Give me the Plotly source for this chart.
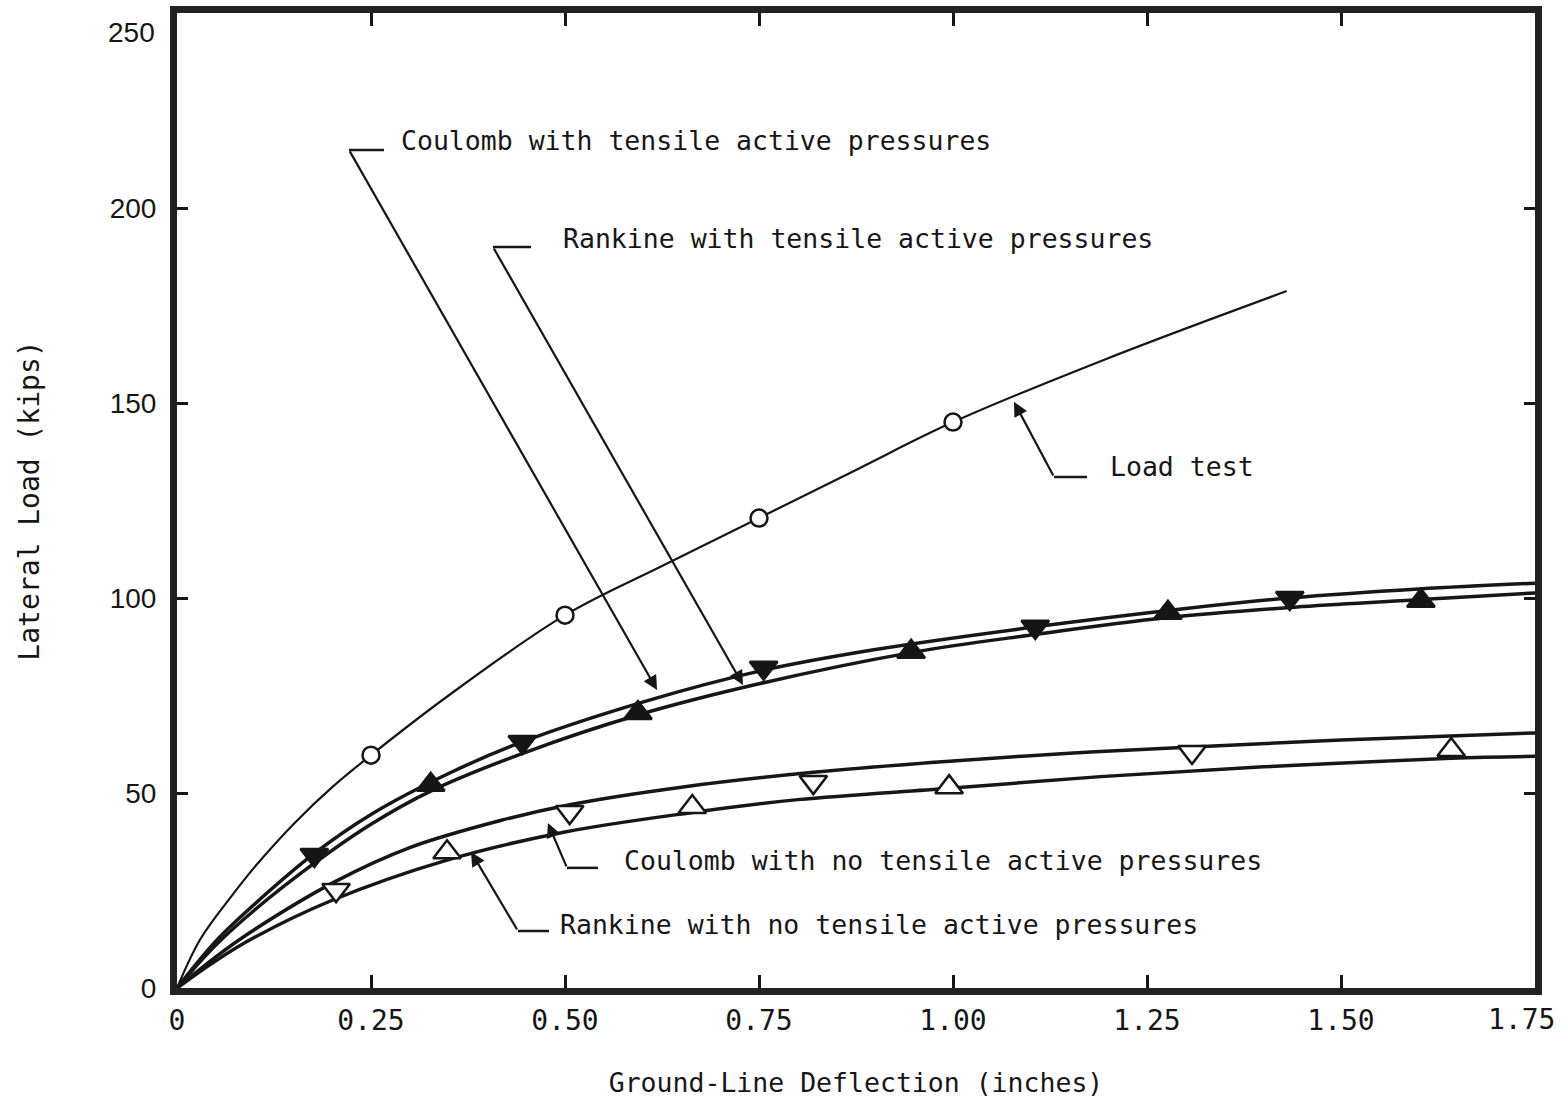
import plotly.graph_objects as go

# ---------------- data ----------------
# Load test (measured)
load_test_x = [0, 0.03, 0.07, 0.1, 0.15, 0.2, 0.25, 0.35, 0.5, 0.625, 0.75, 0.875, 1.0, 1.2, 1.43]
load_test_y = [0, 12.5, 23.5, 31, 42, 51.5, 59.7, 75, 95.6, 108.2, 120.5, 132.85, 145.1, 161.5, 178.7]
load_test_mx = [0.25, 0.5, 0.75, 1.0]
load_test_my = [59.7, 95.6, 120.5, 145.1]

# Coulomb with tensile active pressures (filled down-triangles)
coul_t_x = [0, 0.05, 0.1, 0.177, 0.25, 0.35, 0.445, 0.6, 0.756, 0.9, 1.106, 1.3, 1.434, 1.6, 1.75]
coul_t_y = [0, 12, 21.5, 34.5, 44.5, 55, 63.1, 73.3, 81.5, 86.8, 92.6, 97.3, 100, 102.3, 103.8]
coul_t_mx = [0.177, 0.445, 0.756, 1.106, 1.434]
coul_t_my = [34.1, 63.1, 82.1, 92.6, 100]

# Rankine with tensile active pressures (filled up-triangles)
rank_t_x = [0, 0.05, 0.1, 0.177, 0.25, 0.327, 0.45, 0.594, 0.75, 0.946, 1.1, 1.277, 1.45, 1.603, 1.75]
rank_t_y = [0, 11, 20, 32, 42, 50.5, 60.5, 70, 78, 86, 90.5, 95, 97.8, 99.6, 101.3]
rank_t_mx = [0.327, 0.594, 0.946, 1.277, 1.603]
rank_t_my = [52.1, 70.5, 86.2, 96.2, 99.3]

# Coulomb with no tensile active pressures (open down-triangles)
coul_n_x = [0, 0.05, 0.1, 0.205, 0.3, 0.418, 0.506, 0.65, 0.82, 1.0, 1.15, 1.308, 1.5, 1.75]
coul_n_y = [0, 8, 15, 27.4, 36, 43, 47, 51.5, 55.3, 58.2, 60.2, 61.8, 63.6, 65.4]
coul_n_mx = [0.205, 0.506, 0.82, 1.308]
coul_n_my = [25.1, 45.1, 52.8, 60.5]

# Rankine with no tensile active pressures (open up-triangles)
rank_n_x = [0, 0.05, 0.1, 0.2, 0.348, 0.5, 0.664, 0.8, 0.995, 1.19, 1.4, 1.642, 1.75]
rank_n_y = [0, 7, 13, 22.5, 32.8, 40, 45, 48.3, 51.2, 54.2, 56.7, 58.9, 59.4]
rank_n_mx = [0.348, 0.664, 0.995, 1.642]
rank_n_my = [34.8, 46.4, 51.5, 61]

x_tickvals = [0, 0.25, 0.5, 0.75, 1.0, 1.25, 1.5, 1.75]
x_ticktext = ["0", "0.25", "0.50", "0.75", "1.00", "1.25", "1.50", "1.75"]
y_tickvals = [0, 50, 100, 150, 200, 250]
y_ticktext = ["0", "50", "100", "150", "200", "250"]

# ---------------- figure ----------------
MONO = "DejaVu Sans Mono"
INK = "#161616"

fig = go.Figure()


def curve(x, y, width):
    fig.add_trace(go.Scatter(
        x=x, y=y, mode="lines",
        line=dict(color=INK, width=width, shape="spline", smoothing=1.0),
        hoverinfo="skip", showlegend=False))


def marks(x, y, symbol, size, filled):
    fig.add_trace(go.Scatter(
        x=x, y=y, mode="markers",
        marker=dict(symbol=symbol, size=size,
                    color=INK if filled else "white",
                    line=dict(color=INK, width=2.5)),
        hoverinfo="skip", showlegend=False))


curve(load_test_x, load_test_y, 2.2)
curve(coul_t_x, coul_t_y, 3.5)
curve(rank_t_x, rank_t_y, 3.5)
curve(coul_n_x, coul_n_y, 3.5)
curve(rank_n_x, rank_n_y, 3.5)

marks(load_test_mx, load_test_my, "circle", 17, False)
marks(coul_t_mx, coul_t_my, "triangle-down", 24, True)
marks(rank_t_mx, rank_t_my, "triangle-up", 24, True)
marks(coul_n_mx, coul_n_my, "triangle-down", 24, False)
marks(rank_n_mx, rank_n_my, "triangle-up", 24, False)

# Callouts: (label, text-left x, text y, corner x, corner y, hook end x, arrow tip x, arrow tip y)
callouts = [
    ("Coulomb with tensile active pressures", 0.286, 217.4, 0.2216, 214.9, 0.2668, 0.6186, 76.4),
    ("Rankine with tensile active pressures", 0.4948, 192.3, 0.4072, 190.0, 0.4562, 0.7294, 77.7),
    ("Load test", 1.1997, 133.8, 1.1302, 131.0, 1.1727, 1.0786, 150.3),
    ("Coulomb with no tensile active pressures", 0.5735, 32.6, 0.5026, 30.8, 0.5425, 0.478, 42.3),
    ("Rankine with no tensile active pressures", 0.491, 16.4, 0.4394, 14.6, 0.4794, 0.3789, 34.9),
]

annotations = []
shapes = []
for label, tx, ty, cx, cy, hx, ax_, ay_ in callouts:
    annotations.append(dict(
        x=tx, y=ty, xref="x", yref="y", text=label, showarrow=False,
        xanchor="left", yanchor="middle",
        font=dict(family=MONO, size=26.5, color=INK)))
    annotations.append(dict(
        x=ax_, y=ay_, xref="x", yref="y", ax=cx, ay=cy, axref="x", ayref="y",
        text="", showarrow=True, arrowhead=2, arrowsize=1.3, arrowwidth=2.2,
        arrowcolor=INK, standoff=0, startstandoff=0))
    shapes.append(dict(type="line", xref="x", yref="y", x0=cx, y0=cy, x1=hx, y1=cy,
                       line=dict(color=INK, width=2.5)))

# end tick labels are nudged inward so they stay on the page
annotations.append(dict(
    x=x_tickvals[-1], y=0, xref="x", yref="paper", text=x_ticktext[-1],
    showarrow=False, xanchor="center", yanchor="top", xshift=-14, yshift=-13,
    font=dict(family=MONO, size=28, color=INK)))
annotations.append(dict(
    x=0, y=y_tickvals[-1], xref="paper", yref="y", text=y_ticktext[-1],
    showarrow=False, xanchor="right", yanchor="middle", xshift=-20, yshift=-19,
    font=dict(family="Liberation Sans", size=28, color=INK)))
x_ticktext_axis = x_ticktext[:-1] + [""]
y_ticktext_axis = y_ticktext[:-1] + [""]

fig.update_layout(
    width=1565, height=1103,
    margin=dict(l=177, r=30, t=13, b=115),
    paper_bgcolor="white", plot_bgcolor="white",
    annotations=annotations, shapes=shapes,
    showlegend=False,
)

fig.update_xaxes(
    range=[0, 1.75], tickvals=x_tickvals, ticktext=x_ticktext_axis,
    ticks="inside", ticklen=13, tickwidth=3, tickcolor=INK,
    showline=True, linewidth=7, linecolor="#222", mirror="ticks",
    showgrid=False, zeroline=False, ticklabelstandoff=1, automargin=False,
    ticklabeloverflow="allow",
    tickfont=dict(family=MONO, size=28, color=INK),
    title=dict(text="Ground-Line Deflection (inches)", standoff=40,
               font=dict(family=MONO, size=26.5, color=INK)),
)
fig.update_yaxes(
    range=[0, 250], tickvals=y_tickvals, ticktext=y_ticktext_axis,
    ticks="inside", ticklen=11, tickwidth=3, tickcolor=INK,
    showline=True, linewidth=7, linecolor="#222", mirror="ticks",
    showgrid=False, zeroline=False, ticklabelstandoff=8, automargin=False,
    ticklabeloverflow="allow",
    tickfont=dict(family="Liberation Sans", size=28, color=INK),
    title=dict(text="Lateral Load (kips)", standoff=64,
               font=dict(family=MONO, size=28, color=INK)),
)

fig.write_html("out.html")
